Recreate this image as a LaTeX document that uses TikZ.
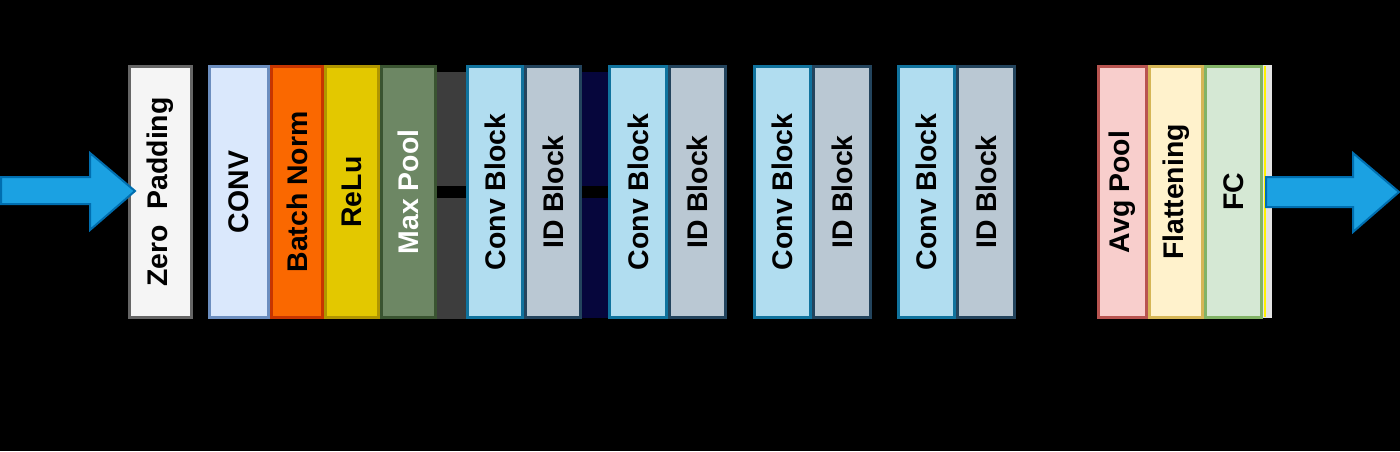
\documentclass[tikz,border=0pt]{standalone}
\usepackage{fontspec}
\usepackage{graphicx}
\setmainfont{Liberation Sans}
\definecolor{zpF}{HTML}{F5F5F5}\definecolor{zpD}{HTML}{666666}
\definecolor{convF}{HTML}{DAE8FC}\definecolor{convD}{HTML}{6C8EBF}
\definecolor{bnF}{HTML}{FA6800}\definecolor{bnD}{HTML}{C73500}
\definecolor{reluF}{HTML}{E3C800}\definecolor{reluD}{HTML}{B09500}
\definecolor{mpF}{HTML}{6D8764}\definecolor{mpD}{HTML}{3A5431}
\definecolor{cbF}{HTML}{B1DDF0}\definecolor{cbD}{HTML}{10739E}
\definecolor{idF}{HTML}{BAC8D3}\definecolor{idD}{HTML}{23445D}
\definecolor{apF}{HTML}{F8CECC}\definecolor{apD}{HTML}{B85450}
\definecolor{flF}{HTML}{FFF2CC}\definecolor{flD}{HTML}{D6B656}
\definecolor{fcF}{HTML}{D5E8D4}\definecolor{fcD}{HTML}{82B366}
\definecolor{arrF}{HTML}{1BA1E2}\definecolor{arrD}{HTML}{006EAF}
\definecolor{bandgray}{HTML}{3D3D3D}
\definecolor{bandnavy}{HTML}{06063C}
\definecolor{bandlight}{HTML}{E4E4E4}
\newcommand{\layerbox}[6]{%
  \node[layer, fill=#4, draw=#5, minimum width={(#3-#2-3)*0.75pt}] (#1) at ({(#2+#3)/2},192) {\rotatebox{90}{#6}};}
\tikzset{
  layer/.style={rectangle, line width=2.25pt, minimum height=188.25pt, inner sep=0pt,
    font=\fontsize{21.3}{25}\selectfont\bfseries, text=black},
  link/.style={draw=black, line width=9pt},
  bigarrow/.style={fill=arrF, draw=arrD, line width=1.5pt, line join=miter},
}
\begin{document}
\begin{tikzpicture}[x=0.75pt, y=-0.75pt]
\useasboundingbox (0,0) rectangle (1400,451);
\fill[black] (0,0) rectangle (1400,451);
% group bands
\fill[bandgray] (430,72) rectangle (470,319);
\fill[bandnavy] (575,72) rectangle (615,318);
\fill[bandlight] (1258,65) rectangle (1272,318);
\draw[yellow, line width=1.5pt] (1264.5,66) -- (1264.5,317);
% layers
\layerbox{zp}{128}{193}{zpF}{zpD}{Zero\ \ Padding}
\layerbox{conv}{208}{270}{convF}{convD}{CONV}
\layerbox{bn}{270}{324}{bnF}{bnD}{Batch Norm}
\layerbox{relu}{324}{380}{reluF}{reluD}{ReLu}
\layerbox{mp}{380}{437}{mpF}{mpD}{\textcolor{white}{Max Pool}}
\layerbox{cba}{466}{524}{cbF}{cbD}{Conv Block}
\layerbox{ida}{524}{582}{idF}{idD}{ID Block}
\layerbox{cbb}{608}{668}{cbF}{cbD}{Conv Block}
\layerbox{idb}{668}{727}{idF}{idD}{ID Block}
\layerbox{cbc}{753}{812}{cbF}{cbD}{Conv Block}
\layerbox{idc}{812}{872}{idF}{idD}{ID Block}
\layerbox{cbd}{897}{956}{cbF}{cbD}{Conv Block}
\layerbox{idd}{956}{1016}{idF}{idD}{ID Block}
\layerbox{ap}{1097}{1148}{apF}{apD}{Avg Pool}
\layerbox{fl}{1148}{1204}{flF}{flD}{Flattening}
\layerbox{fc}{1204}{1263}{fcF}{fcD}{FC}
% connectors between stages
\draw[link] (mp.east) -- (cba.west);
\draw[link] (ida.east) -- (cbb.west);
\draw[link] (idb.east) -- (cbc.west);
\draw[link] (idc.east) -- (cbd.west);
\draw[link] (idd.east) -- (ap.west);
% input and output arrows
\draw[bigarrow] (1,177) -- (90,177) -- (90,153) -- (135,191) -- (90,230) -- (90,204) -- (1,204) -- cycle;
\draw[bigarrow] (1266,177) -- (1353,177) -- (1353,153) -- (1399,192) -- (1353,232) -- (1353,207) -- (1266,207) -- cycle;
\end{tikzpicture}
\end{document}
